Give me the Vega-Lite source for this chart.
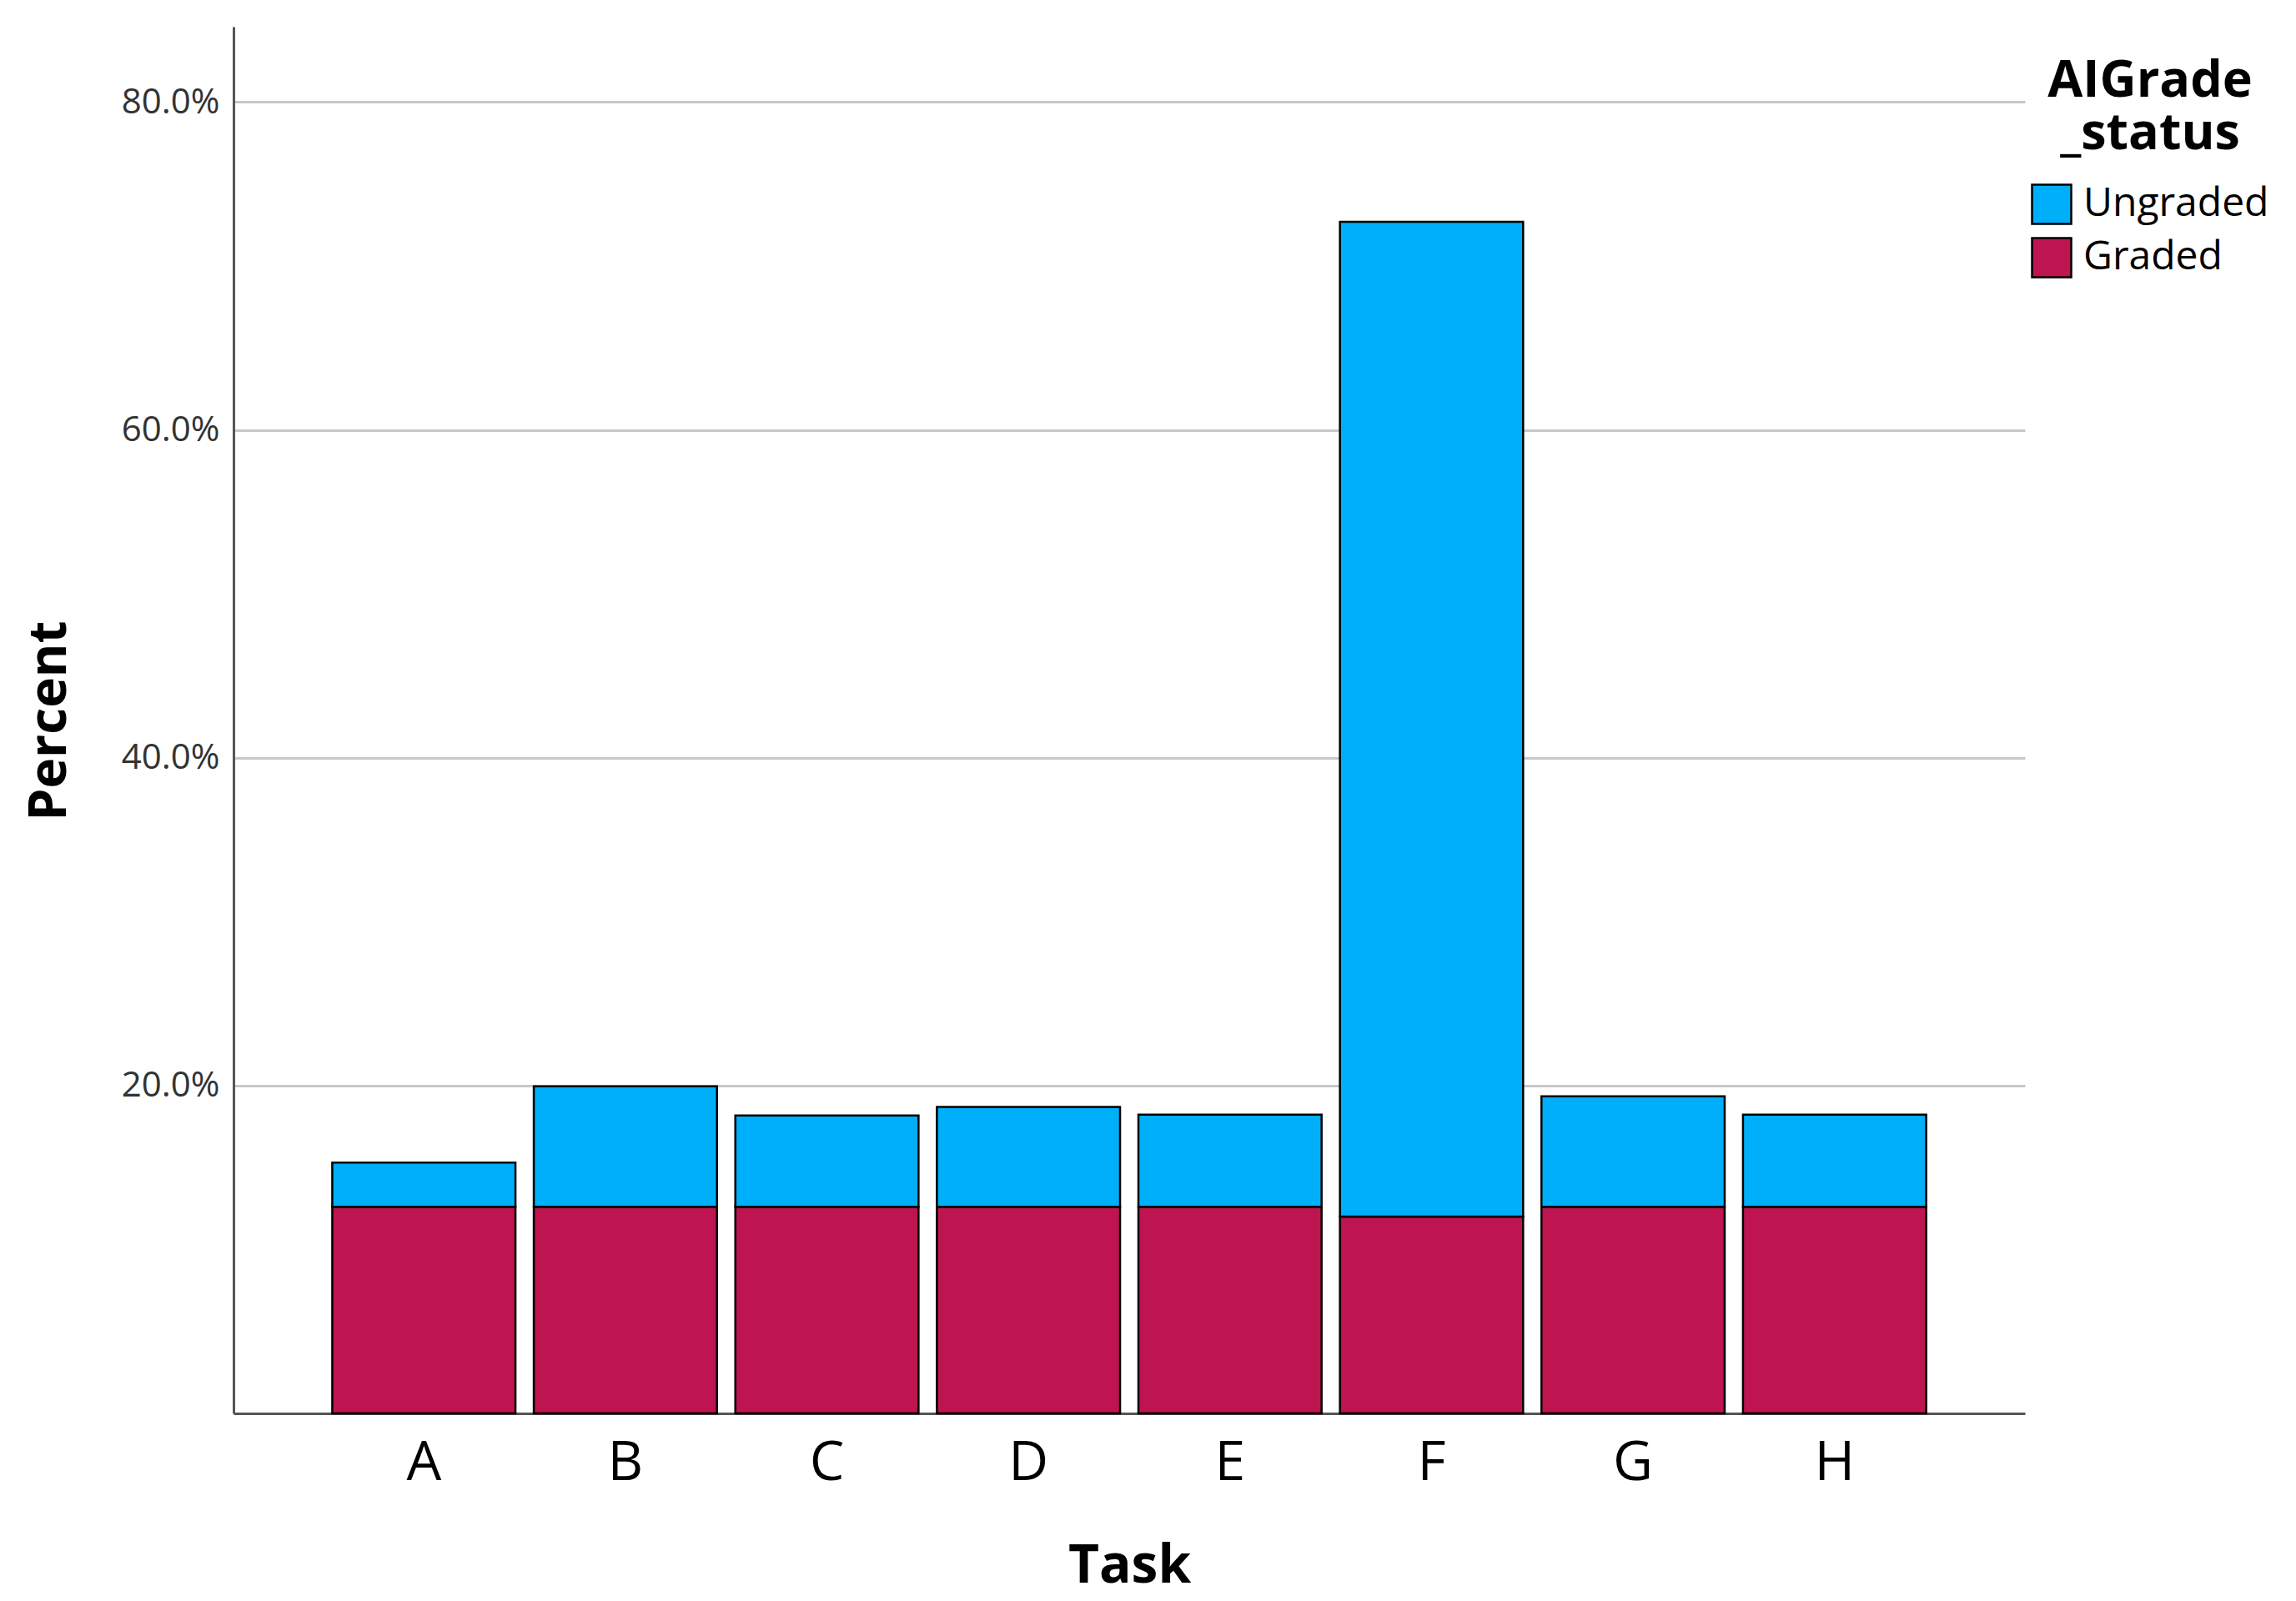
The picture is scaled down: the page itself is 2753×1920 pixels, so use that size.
{
  "$schema": "https://vega.github.io/schema/vega-lite/v6.json",
  "autosize": {"type": "none"},
  "padding": {"left": 280, "top": 32, "right": 325, "bottom": 225},
  "width": 2148,
  "height": 1663,
  "background": "white",
  "config": {
    "view": {"stroke": null},
    "font": "Open Sans"
  },
  "data": {
    "values": [
      {"task": "A", "status": "Graded", "pct": 0.126},
      {"task": "A", "status": "Ungraded", "pct": 0.027},
      {"task": "B", "status": "Graded", "pct": 0.126},
      {"task": "B", "status": "Ungraded", "pct": 0.0735},
      {"task": "C", "status": "Graded", "pct": 0.126},
      {"task": "C", "status": "Ungraded", "pct": 0.0558},
      {"task": "D", "status": "Graded", "pct": 0.126},
      {"task": "D", "status": "Ungraded", "pct": 0.0609},
      {"task": "E", "status": "Graded", "pct": 0.126},
      {"task": "E", "status": "Ungraded", "pct": 0.0563},
      {"task": "F", "status": "Graded", "pct": 0.12},
      {"task": "F", "status": "Ungraded", "pct": 0.607},
      {"task": "G", "status": "Graded", "pct": 0.126},
      {"task": "G", "status": "Ungraded", "pct": 0.0674},
      {"task": "H", "status": "Graded", "pct": 0.126},
      {"task": "H", "status": "Ungraded", "pct": 0.0563}
    ]
  },
  "mark": {"type": "bar", "stroke": "#000000", "strokeWidth": 2.5},
  "encoding": {
    "x": {
      "field": "task",
      "type": "nominal",
      "scale": {"paddingInner": 0.091, "paddingOuter": 0.49},
      "axis": {
        "title": "Task",
        "labelAngle": 0,
        "labelFontSize": 66,
        "labelColor": "#000000",
        "labelPadding": 27,
        "ticks": false,
        "tickSize": 0,
        "domain": true,
        "domainColor": "#555555",
        "domainWidth": 3,
        "grid": false,
        "titleFontSize": 64,
        "titleFontWeight": "bold",
        "titleColor": "#000000",
        "titleX": 1074,
        "titleY": 202,
        "titleBaseline": "alphabetic",
        "titleAlign": "center"
      }
    },
    "y": {
      "field": "pct",
      "type": "quantitative",
      "stack": "zero",
      "scale": {"domain": [0, 0.846], "nice": false},
      "axis": {
        "title": "Percent",
        "values": [0.2, 0.4, 0.6, 0.8],
        "format": ".1%",
        "labelFontSize": 42,
        "labelColor": "#333333",
        "labelPadding": 17,
        "ticks": false,
        "tickSize": 0,
        "domain": true,
        "domainColor": "#555555",
        "domainWidth": 3,
        "grid": true,
        "gridColor": "#c8c8c8",
        "gridWidth": 3,
        "titleFontSize": 62,
        "titleFontWeight": "bold",
        "titleColor": "#000000",
        "titleAngle": -90,
        "titleX": -202,
        "titleY": 832,
        "titleBaseline": "alphabetic",
        "titleAlign": "center"
      }
    },
    "color": {
      "field": "status",
      "type": "nominal",
      "scale": {"domain": ["Ungraded", "Graded"], "range": ["#00AFF9", "#BE1450"]},
      "legend": {
        "title": ["AIGrade", "_status"],
        "orient": "none",
        "legendX": 2155,
        "legendY": 36,
        "padding": 0,
        "titleFontSize": 61,
        "titleFontWeight": "bold",
        "titleColor": "#000000",
        "titleLineHeight": 63,
        "titleAnchor": "middle",
        "titlePadding": 28,
        "titleLimit": 0,
        "symbolType": "square",
        "symbolSize": 2209,
        "symbolStrokeColor": "#000000",
        "symbolStrokeWidth": 2.5,
        "symbolOpacity": 1,
        "labelFontSize": 48,
        "labelColor": "#000000",
        "labelOffset": 13,
        "labelLimit": 0,
        "rowPadding": 6
      }
    },
    "order": {"field": "status", "sort": "ascending"}
  }
}
